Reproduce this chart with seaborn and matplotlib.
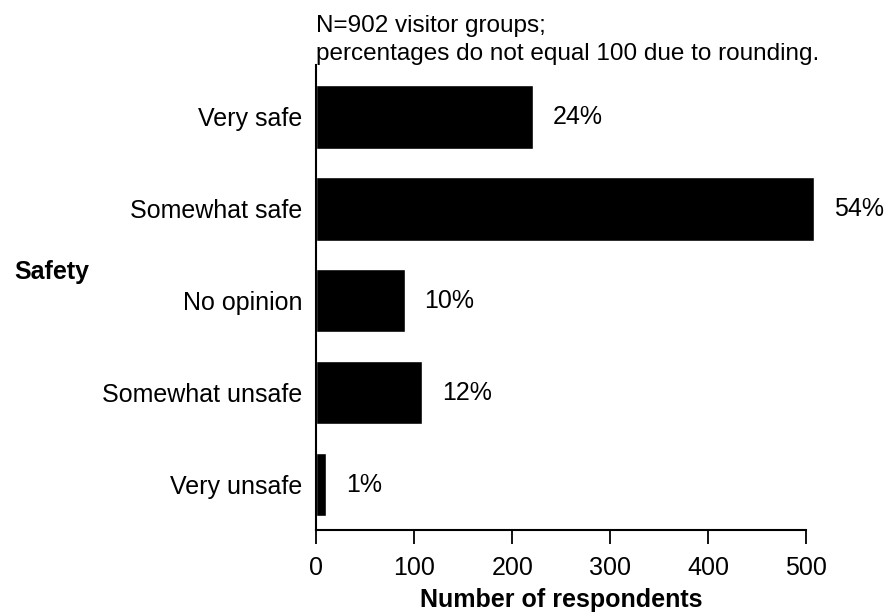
import matplotlib.pyplot as plt
import seaborn as sns
import pandas as pd

# Survey responses
categories = ['Very safe', 'Somewhat safe', 'No opinion', 'Somewhat unsafe', 'Very unsafe']
respondents = [221, 508, 90, 108, 10]
percent_labels = ['24%', '54%', '10%', '12%', '1%']
x_ticks = [0, 100, 200, 300, 400, 500]

df = pd.DataFrame({'Safety': categories, 'Respondents': respondents})

sns.set_style('white')
plt.rcParams['font.family'] = ['Liberation Sans', 'DejaVu Sans']
plt.rcParams['text.color'] = 'black'
plt.rcParams['xtick.color'] = 'black'
plt.rcParams['ytick.color'] = 'black'
plt.rcParams['axes.labelcolor'] = 'black'

fs = 18

fig = plt.figure(figsize=(8.89, 6.16), dpi=100)
ax = fig.add_axes([0.356, 0.140, 0.551, 0.754])

sns.barplot(data=df, x='Respondents', y='Safety', color='black',
            width=0.69, saturation=1, ax=ax)
for patch in ax.patches:
    patch.set_clip_on(False)

# Percentage labels next to each bar
for i, (val, lab) in enumerate(zip(respondents, percent_labels)):
    ax.text(val + 20, i, lab, va='center', ha='left', fontsize=fs)

ax.set_xlim(0, 500)
ax.set_ylim(4.49, -0.56)
ax.set_xticks(x_ticks)
ax.tick_params(axis='x', length=10, width=1.3, pad=9, labelsize=fs, bottom=True)
ax.tick_params(axis='y', length=0, pad=10, labelsize=fs)

for side in ['top', 'right']:
    ax.spines[side].set_visible(False)
for side in ['left', 'bottom']:
    ax.spines[side].set_color('black')
    ax.spines[side].set_linewidth(1.5)

ax.set_xlabel('Number of respondents', fontsize=fs, fontweight='bold', labelpad=6)
ax.set_ylabel('Safety', fontsize=fs, fontweight='bold', rotation=0,
              ha='left', va='center')
ax.yaxis.set_label_coords(-0.616, 0.555)

fig.text(0.356, 1 - 60 / 616, 'N=902 visitor groups;\npercentages do not equal 100 due to rounding.',
         ha='left', va='baseline', fontsize=17.5, linespacing=1.35)

fig.savefig('out.png', dpi=100)
